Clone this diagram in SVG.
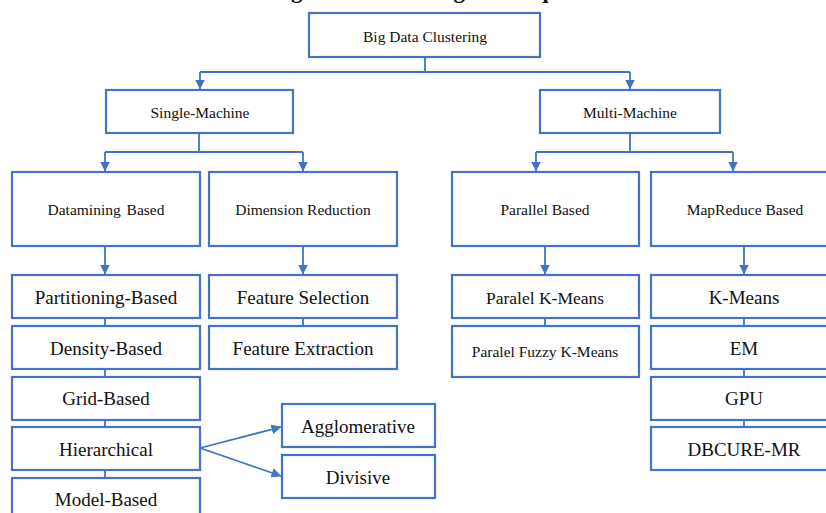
<svg xmlns="http://www.w3.org/2000/svg" width="826" height="513" viewBox="0 0 826 513">
<style>
.b{fill:#fff;stroke:#4472C4;stroke-width:2.2}
.t{font-family:"Liberation Serif","Times New Roman",serif;fill:#111;text-anchor:middle}
.s{font-size:15.5px}
.l{font-size:19px}
.c{fill:none;stroke:#4472C4;stroke-width:1.8}
.ttl{font-family:"Liberation Serif","Times New Roman",serif;font-weight:bold;font-size:23px;fill:#111;text-anchor:middle}
</style>
<defs>
<marker id="ah" viewBox="0 0 10 10" refX="9.5" refY="5" markerWidth="10" markerHeight="10" markerUnits="userSpaceOnUse" orient="auto">
<path d="M0,0 L10,5 L0,10 z" fill="#4472C4"/>
</marker>
</defs>
<rect width="826" height="513" fill="#fff"/>
<text class="ttl" x="425" y="-2">Big Data Clustering Techniques</text>
<g id="connectors">
<path class="c" d="M425,57 V72 M200,72 H630"/>
<path class="c" d="M200,72 V89" marker-end="url(#ah)"/>
<path class="c" d="M630,72 V89" marker-end="url(#ah)"/>
<path class="c" d="M199,133 V152 M105,152 H303"/>
<path class="c" d="M105,152 V171" marker-end="url(#ah)"/>
<path class="c" d="M303,152 V171" marker-end="url(#ah)"/>
<path class="c" d="M630,133 V152 M536,152 H733"/>
<path class="c" d="M536,152 V171" marker-end="url(#ah)"/>
<path class="c" d="M733,152 V171" marker-end="url(#ah)"/>
<path class="c" d="M105,246 V274" marker-end="url(#ah)"/>
<path class="c" d="M303,246 V274" marker-end="url(#ah)"/>
<path class="c" d="M545,246 V274" marker-end="url(#ah)"/>
<path class="c" d="M744,246 V274" marker-end="url(#ah)"/>
<path class="c" d="M105,318 V478"/>
<path class="c" d="M303,318 V326"/>
<path class="c" d="M545,318 V326"/>
<path class="c" d="M744,318 V427"/>
<path class="c" d="M200,448 L281,427" marker-end="url(#ah)"/>
<path class="c" d="M200,448 L281,476" marker-end="url(#ah)"/>
</g>
<g id="n-root"><rect class="b" x="309" y="13" width="231" height="44"/><text class="t s" x="425" y="42">Big Data Clustering</text></g>
<g id="n-single"><rect class="b" x="106" y="90" width="187" height="43"/><text class="t s" x="200" y="118">Single-Machine</text></g>
<g id="n-multi"><rect class="b" x="540" y="90" width="180" height="43"/><text class="t s" x="630" y="118">Multi-Machine</text></g>
<g id="n-datamining"><rect class="b" x="12" y="172" width="188" height="74"/><text class="t s" x="106" y="215" word-spacing="2">Datamining Based</text></g>
<g id="n-dimred"><rect class="b" x="209" y="172" width="188" height="74"/><text class="t s" x="303" y="215">Dimension Reduction</text></g>
<g id="n-parallel"><rect class="b" x="452" y="172" width="187" height="74"/><text class="t s" x="545" y="215">Parallel Based</text></g>
<g id="n-mapreduce"><rect class="b" x="651" y="172" width="188" height="74"/><text class="t s" x="745" y="215">MapReduce Based</text></g>
<g id="n-partitioning"><rect class="b" x="12" y="275" width="188" height="43"/><text class="t l" x="106" y="304">Partitioning-Based</text></g>
<g id="n-density"><rect class="b" x="12" y="326" width="188" height="43"/><text class="t l" x="106" y="354.5">Density-Based</text></g>
<g id="n-grid"><rect class="b" x="12" y="377" width="188" height="43"/><text class="t l" x="106" y="405">Grid-Based</text></g>
<g id="n-hierarchical"><rect class="b" x="12" y="427" width="188" height="43"/><text class="t l" x="106" y="455.5">Hierarchical</text></g>
<g id="n-model"><rect class="b" x="12" y="478" width="188" height="44"/><text class="t l" x="106" y="506">Model-Based</text></g>
<g id="n-featsel"><rect class="b" x="209" y="275" width="188" height="43"/><text class="t l" x="303" y="304">Feature Selection</text></g>
<g id="n-featext"><rect class="b" x="209" y="326" width="188" height="43"/><text class="t l" x="303" y="354.5">Feature Extraction</text></g>
<g id="n-agglomerative"><rect class="b" x="282" y="404" width="153" height="43"/><text class="t l" x="358" y="433">Agglomerative</text></g>
<g id="n-divisive"><rect class="b" x="282" y="455" width="153" height="43"/><text class="t l" x="358" y="483.5">Divisive</text></g>
<g id="n-pkmeans"><rect class="b" x="452" y="275" width="187" height="43"/><text class="t" style="font-size:17.5px" x="545" y="303.5">Paralel K-Means</text></g>
<g id="n-pfkmeans"><rect class="b" x="452" y="326" width="187" height="51"/><text class="t s" x="545" y="357">Paralel Fuzzy K-Means</text></g>
<g id="n-kmeans"><rect class="b" x="651" y="275" width="188" height="43"/><text class="t l" x="744" y="304">K-Means</text></g>
<g id="n-em"><rect class="b" x="651" y="326" width="188" height="43"/><text class="t l" x="744" y="354.5">EM</text></g>
<g id="n-gpu"><rect class="b" x="651" y="377" width="188" height="43"/><text class="t l" x="744" y="405">GPU</text></g>
<g id="n-dbcure"><rect class="b" x="651" y="427" width="188" height="43"/><text class="t l" x="744" y="455.5">DBCURE-MR</text></g>
</svg>
